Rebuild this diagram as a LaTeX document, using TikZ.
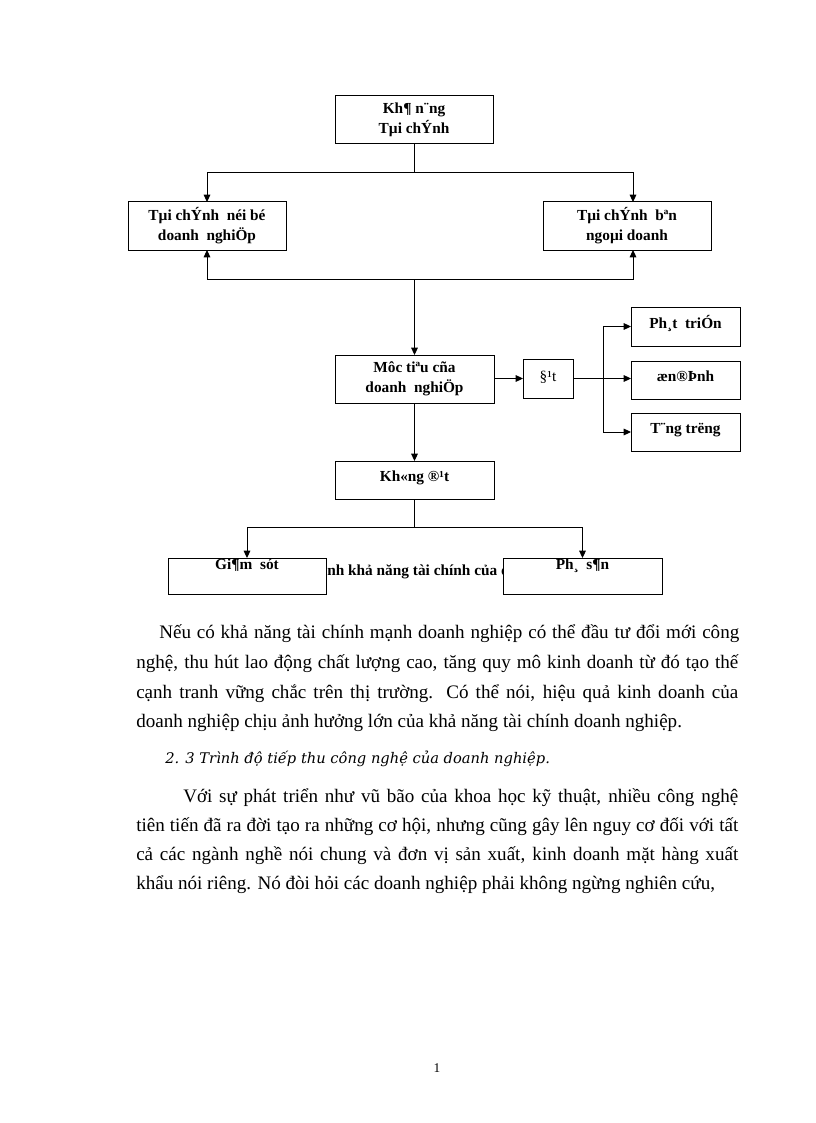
\documentclass[tikz,border=0pt]{standalone}
\usepackage{fontspec}
\setmainfont{Liberation Serif}
\newfontfamily\headfont{DejaVu Serif}
\usetikzlibrary{arrows.meta,calc}
\tikzset{
  conn/.style={line width=0.75pt},
  arr/.style={line width=0.75pt,-{Triangle[length=5.5pt,width=5pt]}},
  tbox/.style={draw, fill=white, line width=0.75pt, inner sep=0pt, outer sep=0pt,
    align=center, anchor=north, minimum height=36pt,
    font=\fontsize{11.5}{15}\selectfont\bfseries},
  sbox/.style={draw, fill=white, line width=0.75pt, inner sep=0pt, outer sep=0pt,
    anchor=north, font=\fontsize{11.5}{15}\selectfont\bfseries},
  body/.style={anchor=base west, inner sep=0pt, font=\fontsize{14.3}{17}\selectfont},
}
\begin{document}
\begin{tikzpicture}[x=0.75pt,y=-0.75pt]
\fill[white] (0,0) rectangle (816,1123);
\useasboundingbox (0,0) rectangle (816,1123);

% caption (partly hidden by boxes)
\node[anchor=base west, inner sep=0pt, font=\fontsize{11.5}{14}\selectfont\bfseries] (cap) at (327,575) {nh khả năng tài chính của d};

% boxes
\node[tbox, minimum width=118.5pt] (kn) at (414,96) {Kh¶ n¨ng\\Tµi chÝnh};
\node[tbox, minimum width=118.5pt] (tcnb) at (207,202) {Tµi chÝnh~ néi bé\\doanh~ nghiÖp};
\node[tbox, minimum width=126pt] (tcbn) at (627,202) {Tµi chÝnh~ bªn\\ngoµi doanh};
\node[tbox, minimum width=119.25pt] (mt) at (414.5,355) {Môc tiªu cña\\doanh~ nghiÖp};
\node[sbox, minimum width=37.5pt, text height=16.5pt, text depth=12.75pt] (dat) at (548,359) {\mdseries §¹t};
\node[sbox, minimum width=81.75pt, text height=15.75pt, text depth=13.5pt] (pt) at (685.5,307) {Ph¸t~ triÓn};
\node[sbox, minimum width=81.75pt, text height=15pt, text depth=13.5pt] (od) at (685.5,361) {æn®Þnh};
\node[sbox, minimum width=81.75pt, text height=15pt, text depth=13.5pt] (tt) at (685.5,413) {T¨ng trëng};
\node[sbox, minimum width=119.25pt, text height=15pt, text depth=13.5pt] (kd) at (414.5,461) {Kh«ng ®¹t};
\node[sbox, minimum width=118.5pt, text height=8.6pt, text depth=19.1pt] (gs) at (247,558) {Gi¶m~ sót};
\node[sbox, minimum width=119.25pt, text height=8.6pt, text depth=19.1pt] (ps) at (582.5,558) {Ph¸~ s¶n};

% connectors
\coordinate (j1) at ($(kn.south)+(0,29)$);
\draw[conn] (kn.south) -- (j1);
\draw[arr] (j1) -| (tcnb.north);
\draw[arr] (j1) -| ([xshift=4.5pt]tcbn.north);

\coordinate (j2) at ($(mt.north)+(0,-76)$);
\draw[arr] (j2) -- (mt.north);
\draw[arr] (j2) -| (tcnb.south);
\draw[arr] (j2) -| ([xshift=4.5pt]tcbn.south);

\draw[arr] (mt.east |- dat.west) -- (dat.west);
\coordinate (br) at ($(dat.east)+(30,0)$);
\draw[arr] (dat.east) -- (dat.east -| od.west);
\draw[arr] (br) |- (pt.west);
\draw[arr] (br) |- (tt.west);

\draw[arr] (mt.south) -- (kd.north);
\coordinate (j3) at ($(kd.south)+(0,28)$);
\draw[conn] (kd.south) -- (j3);
\draw[arr] (j3) -| (gs.north);
\draw[arr] (j3) -| (ps.north);

% body text
\node[body] (a1) at (159,638) {\makebox[435pt][s]{Nếu có khả năng tài chính mạnh doanh nghiệp có thể đầu tư đổi mới công}};
\node[body] (a2) at (136,668) {\makebox[451.5pt][s]{nghệ, thu hút lao động chất lượng cao, tăng quy mô kinh doanh từ đó tạo thế}};
\node[body] (a3) at (136,698) {\makebox[451.5pt][s]{cạnh tranh vững chắc trên thị trường. Có thể nói, hiệu quả kinh doanh của}};
\node[body] (a4) at (136,727) {doanh nghiệp chịu ảnh hưởng lớn của khả năng tài chính doanh nghiệp.};
\node[anchor=base west, inner sep=0pt, font=\headfont\itshape\fontsize{11}{14}\selectfont] (hd) at (165,763) {2. 3 Trình độ tiếp thu công nghệ của doanh nghiệp.};
\node[body] (b1) at (183,802) {\makebox[416.25pt][s]{Với sự phát triển như vũ bão của khoa học kỹ thuật, nhiều công nghệ}};
\node[body] (b2) at (136,831) {\makebox[451.5pt][s]{tiên tiến đã ra đời tạo ra những cơ hội, nhưng cũng gây lên nguy cơ đối với tất}};
\node[body] (b3) at (136,860) {\makebox[451.5pt][s]{cả các ngành nghề nói chung và đơn vị sản xuất, kinh doanh mặt hàng xuất}};
\node[body] (b4) at (136,889) {khẩu nói riêng. Nó đòi hỏi các doanh nghiệp phải không ngừng nghiên cứu,};

\node[anchor=base, inner sep=0pt, font=\fontsize{10}{12}\selectfont] (pg) at (437,1072) {1};
\end{tikzpicture}
\end{document}
